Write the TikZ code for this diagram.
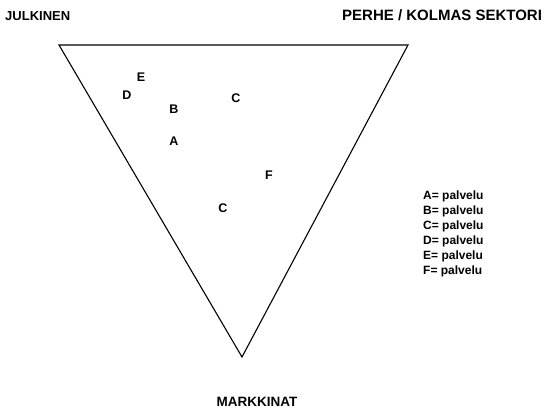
\documentclass[tikz,border=0pt]{standalone}
\usepackage{fontspec}
\setmainfont{Liberation Sans}
\begin{document}
\begin{tikzpicture}[x=1pt,y=-1pt,
  lbl/.style={inner sep=0pt,font=\fontsize{#1}{#1}\selectfont\bfseries},lbl/.default=14,
  svc/.style={inner sep=0pt,font=\fontsize{12.5}{12.5}\selectfont\bfseries},
  leg/.style={inner sep=0pt,anchor=base west,font=\fontsize{12}{12}\selectfont\bfseries}]
\useasboundingbox (0,0) rectangle (544,414);
% Corners of the triangle.
\coordinate (jul) at (59,45);
\coordinate (per) at (408,45);
\coordinate (mar) at (242,357);
\draw[line width=1.1pt] (jul)--(per)--(mar)--cycle;
% Headings at the corners.
\node[lbl=13,anchor=base west] (julkinen) at (5,21) {JULKINEN};
\node[lbl=15,anchor=base west] (perhe) at (342,21) {PERHE / KOLMAS SEKTORI};
\node[lbl=13.5,anchor=base] (markkinat) at (257,406) {MARKKINAT};
% Services placed inside the triangle.
\foreach \n/\x/\y/\t in {e/141/77/E,d/127/95/D,b/174/109/B,c1/236/98/C,a/174/141/A,f/269/175/F,c2/223/208/C}{
\node[svc] (\n) at (\x,\y) {\t};}
% Legend.
\foreach \t [count=\i] in {A,B,C,D,E,F}{
\node[leg] (leg\t) at (423,185+15*\i) {\t= palvelu};}
\end{tikzpicture}
\end{document}
